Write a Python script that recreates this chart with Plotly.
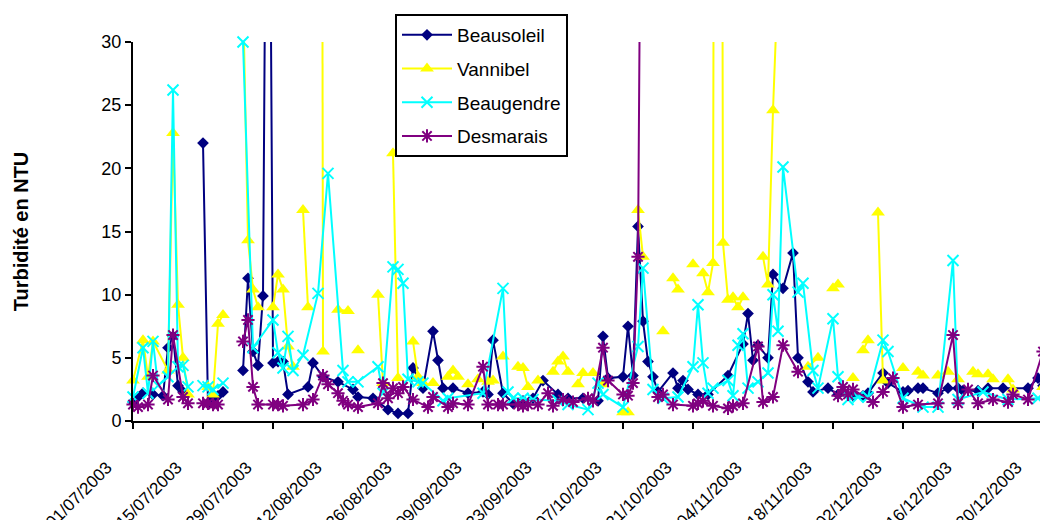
import plotly.graph_objects as go

# ---------------- data ----------------
beausoleil_dates = [
    "2003-07-01", "2003-07-02", "2003-07-03", "2003-07-05", "2003-07-07", "2003-07-08", "2003-07-09",
    "2003-07-10", "2003-07-11", "2003-07-13", "2003-07-15", "2003-07-16", "2003-07-17", "2003-07-18",
    "2003-07-19", "2003-07-21", "2003-07-23", "2003-07-24", "2003-07-25", "2003-07-26", "2003-07-27",
    "2003-07-28", "2003-07-29", "2003-07-30", "2003-07-31", "2003-08-01", "2003-08-05", "2003-08-06",
    "2003-08-08", "2003-08-11", "2003-08-14", "2003-08-15", "2003-08-18", "2003-08-21", "2003-08-23",
    "2003-08-25", "2003-08-26", "2003-08-28", "2003-08-30", "2003-08-31", "2003-09-01", "2003-09-03",
    "2003-09-06", "2003-09-09", "2003-09-10", "2003-09-11", "2003-09-13", "2003-09-15", "2003-09-17",
    "2003-09-19", "2003-09-21", "2003-09-24", "2003-09-26", "2003-09-29", "2003-10-02", "2003-10-03",
    "2003-10-04", "2003-10-07", "2003-10-08", "2003-10-09", "2003-10-10", "2003-10-11", "2003-10-12",
    "2003-10-13", "2003-10-14", "2003-10-17", "2003-10-18", "2003-10-19", "2003-10-20", "2003-10-22",
    "2003-10-24", "2003-10-28", "2003-10-31", "2003-11-01", "2003-11-02", "2003-11-03", "2003-11-05",
    "2003-11-06", "2003-11-08", "2003-11-10", "2003-11-11", "2003-11-13", "2003-11-14", "2003-11-17",
    "2003-11-19", "2003-11-22", "2003-11-24", "2003-11-25", "2003-11-28", "2003-11-29", "2003-12-02",
    "2003-12-03", "2003-12-05", "2003-12-06", "2003-12-09", "2003-12-11", "2003-12-13", "2003-12-14",
    "2003-12-17", "2003-12-19", "2003-12-22", "2003-12-27", "2003-12-29", "2003-12-30",
]
beausoleil_values = [
    1.5, 1.9, 2.2, 2.1, 2.0, 5.8, 6.7,
    2.8, 2.3, None, 22.0, 1.4, 1.8, 2.0,
    2.3, None, 4.0, 11.3, 5.5, 4.4, 9.9,
    70.0, 4.6, 4.7, 4.7, 2.1, 2.7, 4.6,
    3.5, 3.1, 2.5, 1.9, 1.8, 0.9, 0.6,
    0.6, 4.2, 2.6, 7.1, 4.8, 2.6, 2.6,
    2.2, 2.3, 2.1, 6.4, 2.2, 1.4, 1.6,
    1.8, 3.2, 2.1, 1.8, 1.8, 1.6, 6.7,
    3.4, 3.5, 7.5, 3.6, 15.4, 7.9, 4.7,
    3.5, 2.3, 3.8, 2.6, 3.2, 2.5, 2.1,
    2.1, 3.6, 6.1, 8.5, 4.8, 6.0, 5.0,
    11.6, 10.5, 13.3, 5.0, 3.1, 2.3, 2.6,
    2.1, 2.0, 2.0, 2.2, 3.8, 3.0, 2.3,
    2.4, 2.6, 2.6, 2.2, 2.6, 2.6, 2.4,
    2.4, 2.6, 2.6, 2.6, 3.4, 2.8,
]

vannibel_dates = [
    "2003-07-01", "2003-07-03", "2003-07-04", "2003-07-05", "2003-07-08", "2003-07-09", "2003-07-10",
    "2003-07-11", "2003-07-12", "2003-07-13", "2003-07-16", "2003-07-17", "2003-07-18", "2003-07-19",
    "2003-07-20", "2003-07-23", "2003-07-24", "2003-07-25", "2003-07-26", "2003-07-27", "2003-07-29",
    "2003-07-30", "2003-07-31", "2003-08-01", "2003-08-02", "2003-08-03", "2003-08-04", "2003-08-05",
    "2003-08-06", "2003-08-07", "2003-08-08", "2003-08-09", "2003-08-11", "2003-08-13", "2003-08-14",
    "2003-08-15", "2003-08-16", "2003-08-19", "2003-08-20", "2003-08-21", "2003-08-22", "2003-08-23",
    "2003-08-24", "2003-08-26", "2003-08-27", "2003-08-28", "2003-08-29", "2003-08-30", "2003-08-31",
    "2003-09-02", "2003-09-03", "2003-09-04", "2003-09-05", "2003-09-06", "2003-09-07", "2003-09-08",
    "2003-09-09", "2003-09-10", "2003-09-11", "2003-09-12", "2003-09-13", "2003-09-14", "2003-09-16",
    "2003-09-17", "2003-09-18", "2003-09-19", "2003-09-20", "2003-09-21", "2003-09-23", "2003-09-24",
    "2003-09-25", "2003-09-26", "2003-09-27", "2003-09-28", "2003-09-29", "2003-09-30", "2003-10-01",
    "2003-10-02", "2003-10-03", "2003-10-04", "2003-10-07", "2003-10-08", "2003-10-09", "2003-10-10",
    "2003-10-11", "2003-10-12", "2003-10-15", "2003-10-16", "2003-10-17", "2003-10-18", "2003-10-19",
    "2003-10-21", "2003-10-22", "2003-10-23", "2003-10-24", "2003-10-25", "2003-10-26", "2003-10-27",
    "2003-10-28", "2003-10-29", "2003-10-30", "2003-10-31", "2003-11-01", "2003-11-04", "2003-11-05",
    "2003-11-06", "2003-11-07", "2003-11-08", "2003-11-13", "2003-11-15", "2003-11-16", "2003-11-18",
    "2003-11-19", "2003-11-20", "2003-11-22", "2003-11-23", "2003-11-24", "2003-11-25", "2003-11-26",
    "2003-11-27", "2003-11-28", "2003-11-29", "2003-12-02", "2003-12-03", "2003-12-05", "2003-12-06",
    "2003-12-07", "2003-12-09", "2003-12-10", "2003-12-11", "2003-12-12", "2003-12-13", "2003-12-14",
    "2003-12-16", "2003-12-17", "2003-12-18", "2003-12-19", "2003-12-20", "2003-12-21", "2003-12-23",
    "2003-12-24", "2003-12-25", "2003-12-30", "2003-12-31",
]
vannibel_values = [
    3.2, 6.4, 3.5, 6.3, 4.0, 22.8, 9.2,
    5.0, 2.1, None, 2.7, 2.1, 7.7, 8.4,
    None, 34.0, 14.3, 10.4, 9.0, None, 9.0,
    11.6, 10.4, 5.9, 4.3, None, 16.7, 9.0,
    None, 250.0, 5.5, None, 8.8, 8.7, None,
    5.6, None, 10.0, 3.0, None, 21.2, 3.4,
    None, 6.3, 3.5, 3.0, None, 3.0, None,
    3.5, 4.0, 3.5, None, 2.9, None, 3.3,
    None, 3.1, 3.2, None, 5.1, None, 4.3,
    4.2, 2.7, None, 3.2, None, 3.9, 4.7,
    5.1, 3.9, None, 2.9, 3.8, None, 3.8,
    None, 2.9, None, 0.7, 0.7, None, 16.7,
    13.0, None, 7.1, None, 11.3, 10.4, None,
    12.4, None, 11.7, 10.2, 12.5, 200.0, 14.1,
    9.6, 9.8, 9.0, 9.8, None, 13.0, 10.8,
    24.6, 35.0, None, 4.3, 5.0, None, 10.5,
    10.8, None, 3.4, None, 5.6, 6.4, None,
    16.5, 3.2, None, 4.2, None, 3.9, 3.6,
    None, 3.6, None, 3.9, None, 3.3, None,
    3.9, 3.7, None, 3.7, 3.3, None, 3.3,
    2.5, None, 2.7, 2.7,
]

beaugendre_dates = [
    "2003-07-01", "2003-07-03", "2003-07-04", "2003-07-05", "2003-07-06", "2003-07-08", "2003-07-09",
    "2003-07-10", "2003-07-11", "2003-07-12", "2003-07-13", "2003-07-15", "2003-07-16", "2003-07-17",
    "2003-07-19", "2003-07-20", "2003-07-23", "2003-07-25", "2003-07-29", "2003-07-30", "2003-07-31",
    "2003-08-01", "2003-08-02", "2003-08-04", "2003-08-07", "2003-08-09", "2003-08-12", "2003-08-13",
    "2003-08-15", "2003-08-19", "2003-08-20", "2003-08-22", "2003-08-23", "2003-08-24", "2003-08-25",
    "2003-08-27", "2003-08-28", "2003-09-01", "2003-09-02", "2003-09-09", "2003-09-13", "2003-09-14",
    "2003-09-15", "2003-09-17", "2003-09-19", "2003-09-24", "2003-09-26", "2003-09-30", "2003-10-02",
    "2003-10-03", "2003-10-07", "2003-10-10", "2003-10-11", "2003-10-13", "2003-10-15", "2003-10-18",
    "2003-10-21", "2003-10-22", "2003-10-23", "2003-10-24", "2003-10-25", "2003-10-28", "2003-10-29",
    "2003-10-30", "2003-10-31", "2003-11-01", "2003-11-03", "2003-11-05", "2003-11-06", "2003-11-07",
    "2003-11-08", "2003-11-11", "2003-11-12", "2003-11-14", "2003-11-15", "2003-11-18", "2003-11-19",
    "2003-11-21", "2003-11-23", "2003-11-25", "2003-11-28", "2003-11-29", "2003-12-02", "2003-12-06",
    "2003-12-09", "2003-12-12", "2003-12-13", "2003-12-18", "2003-12-23", "2003-12-29", "2003-12-31",
]
beaugendre_values = [
    1.9, 5.8, 2.2, 6.3, 2.8, 3.5, 26.2,
    4.3, 4.4, 2.7, None, 2.8, 2.7, 2.5,
    3.0, None, 30.0, 5.8, 8.0, 5.4, 4.2,
    6.7, 4.0, 5.2, 10.1, 19.6, 4.0, 3.1,
    3.1, 4.3, 2.2, 12.2, 12.0, 10.9, 3.3,
    3.1, 3.0, 1.6, 1.8, 2.2, 10.5, 2.3,
    1.8, 1.8, 1.7, 1.6, 1.3, 0.9, 3.0,
    2.1, 1.1, 5.9, 12.1, 2.5, 1.8, 1.9,
    4.3, 9.2, 4.6, 2.2, 2.6, 3.2, 2.0,
    6.0, 6.9, 2.6, 3.1, 3.8, 10.0, 7.1,
    20.1, 10.2, 10.9, 4.0, 2.6, 8.1, 3.5,
    1.7, 1.9, 1.9, 6.4, 5.5, 1.8, 1.1,
    1.1, 12.7, 1.7, 2.3, 1.7, 1.8, 1.3,
]

desmarais_dates = [
    "2003-07-01", "2003-07-02", "2003-07-04", "2003-07-05", "2003-07-08", "2003-07-09", "2003-07-11",
    "2003-07-12", "2003-07-13", "2003-07-15", "2003-07-16", "2003-07-17", "2003-07-18", "2003-07-20",
    "2003-07-23", "2003-07-24", "2003-07-25", "2003-07-26", "2003-07-29", "2003-07-30", "2003-07-31",
    "2003-08-04", "2003-08-06", "2003-08-08", "2003-08-09", "2003-08-11", "2003-08-12", "2003-08-13",
    "2003-08-15", "2003-08-19", "2003-08-20", "2003-08-21", "2003-08-22", "2003-08-23", "2003-08-24",
    "2003-08-26", "2003-08-29", "2003-08-30", "2003-09-02", "2003-09-03", "2003-09-06", "2003-09-09",
    "2003-09-10", "2003-09-12", "2003-09-13", "2003-09-16", "2003-09-17", "2003-09-18", "2003-09-20",
    "2003-09-22", "2003-09-23", "2003-09-25", "2003-09-27", "2003-09-30", "2003-10-01", "2003-10-03",
    "2003-10-04", "2003-10-07", "2003-10-08", "2003-10-09", "2003-10-10", "2003-10-11", "2003-10-12",
    "2003-10-14", "2003-10-15", "2003-10-17", "2003-10-21", "2003-10-22", "2003-10-23", "2003-10-25",
    "2003-10-28", "2003-10-29", "2003-10-31", "2003-11-03", "2003-11-04", "2003-11-06", "2003-11-08",
    "2003-11-11", "2003-11-12", "2003-11-19", "2003-11-20", "2003-11-21", "2003-11-22", "2003-11-26",
    "2003-11-28", "2003-11-30", "2003-12-02", "2003-12-05", "2003-12-09", "2003-12-12", "2003-12-13",
    "2003-12-15", "2003-12-17", "2003-12-20", "2003-12-23", "2003-12-24", "2003-12-27", "2003-12-30",
    "2003-12-31",
]
desmarais_values = [
    1.3, 1.1, 1.3, 3.6, 1.7, 6.8, 1.9,
    1.4, None, 1.4, 1.4, 1.3, 1.3, None,
    6.3, 8.0, 2.7, 1.3, 1.3, 1.3, 1.2,
    1.3, 1.7, 3.6, 2.9, 2.2, 1.6, 1.3,
    1.1, 1.4, 3.0, 1.8, 2.6, 2.2, 2.7,
    1.7, 1.1, 1.9, 1.1, 1.4, 1.3, 4.3,
    1.3, 1.3, 1.3, 1.3, 1.2, 1.3, 1.3,
    2.2, 1.2, 1.7, 1.5, 1.8, 1.6, 5.8,
    3.2, 2.1, 2.0, 3.0, 13.0, 70.0, None,
    1.9, 2.1, 1.3, 1.2, 1.4, 1.6, 1.2,
    1.0, 1.2, 1.4, 5.9, 1.5, 1.9, 6.0,
    3.9, None, 2.0, 2.7, 2.1, 2.5, 1.5,
    2.3, 3.4, 1.1, 1.3, 1.4, 6.8, 1.4,
    2.5, 1.4, 1.7, 1.5, 2.1, 1.7, 5.5,
    2.0,
]

series_names = ["Beausoleil", "Vannibel", "Beaugendre", "Desmarais"]
y_title = "Turbidité en NTU"

# ---------------- figure ----------------
FONT = "Liberation Sans, Arial, sans-serif"

styles = [
    dict(color="#000080", symbol="diamond", size=9, lw=0),
    dict(color="#FFFF00", symbol="triangle-up", size=12, lw=0),
    dict(color="#00FFFF", symbol="x-thin", size=11, lw=2),
    dict(color="#800080", symbol="asterisk", size=11, lw=2),
]
data = [
    (beausoleil_dates, beausoleil_values),
    (vannibel_dates, vannibel_values),
    (beaugendre_dates, beaugendre_values),
    (desmarais_dates, desmarais_values),
]

fig = go.Figure()
for name, (xs, ys), st in zip(series_names, data, styles):
    marker = dict(symbol=st["symbol"], size=st["size"], color=st["color"])
    if st["lw"]:
        marker["line"] = dict(color=st["color"], width=st["lw"])
    fig.add_trace(go.Scatter(
        x=xs, y=ys, name=name, mode="lines+markers",
        line=dict(color=st["color"], width=2),
        marker=marker, connectgaps=False, cliponaxis=False,
        legendgroup=name,
    ))

# the page body adds an 8 px offset; margins compensate so the plot lands where the reference has it
fig.update_layout(
    width=1048, height=520,
    margin=dict(l=125, r=8, t=34, b=107, autoexpand=False),
    paper_bgcolor="white", plot_bgcolor="white",
    font=dict(family=FONT, size=18, color="black"),
    showlegend=True,
    legend=dict(
        x=(387 - 125) / 915, y=1 + (34 - 6) / 379,
        xanchor="left", yanchor="top",
        bgcolor="white", bordercolor="black", borderwidth=2,
        font=dict(family=FONT, size=19, color="black"),
        tracegroupgap=6, itemwidth=50,
    ),
    xaxis=dict(
        type="date", automargin=False,
        range=["2003-07-01", "2003-12-31"],
        tick0="2003-07-01", dtick=14 * 24 * 3600 * 1000,
        tickformat="%d/%m/%Y", tickangle=-45,
        ticks="outside", ticklen=6, tickwidth=1.5, tickcolor="black",
        showline=True, linecolor="black", linewidth=2,
        showgrid=False, zeroline=False,
        tickfont=dict(family=FONT, size=17, color="black"),
        ticklabelstandoff=22, ticklabelshift=-26,
    ),
    yaxis=dict(
        range=[0, 30], dtick=5, tick0=0, automargin=False,
        ticks="outside", ticklen=6, tickwidth=1.5, tickcolor="black",
        showline=True, linecolor="black", linewidth=2,
        showgrid=False, zeroline=False,
        tickfont=dict(family=FONT, size=18, color="black"),
        title=dict(text=y_title, standoff=67,
                   font=dict(family=FONT, size=20, color="black", weight="bold")),
    ),
)

fig.write_html("out.html")
